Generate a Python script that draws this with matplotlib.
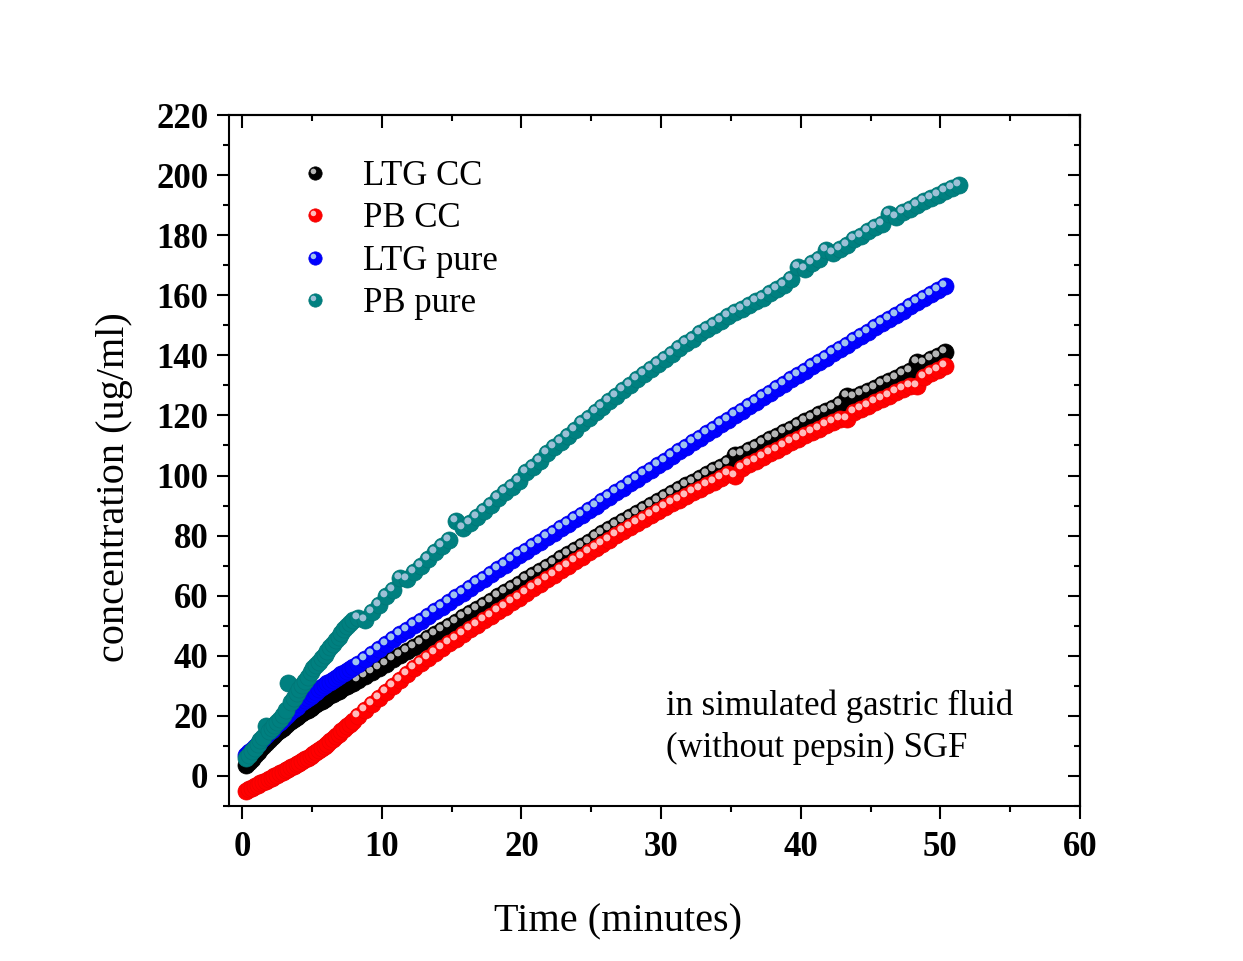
import numpy as np
import matplotlib
matplotlib.use("Agg")
import matplotlib.pyplot as plt
from matplotlib.path import Path
from matplotlib.lines import Line2D
from matplotlib.legend_handler import HandlerTuple
from matplotlib.ticker import MultipleLocator

# ---------------- data ----------------
TIME = [0.3, 0.5, 0.7, 0.9, 1.1, 1.3, 1.5, 1.7, 1.9, 2.1, 2.3, 2.5, 2.7, 2.9, 3.1, 3.3,
        3.5, 3.7, 3.9, 4.1, 4.3, 4.5, 4.7, 4.9, 5.1, 5.3, 5.5, 5.7, 5.9, 6.1, 6.3, 6.5,
        6.7, 6.9, 7.1, 7.3, 7.5, 7.7, 7.9,
        8.3, 8.8, 9.3, 9.8, 10.3, 10.8, 11.3, 11.8, 12.3, 12.8, 13.3, 13.8, 14.3, 14.8,
        15.3, 15.8, 16.3, 16.8, 17.3, 17.8, 18.3, 18.8, 19.3, 19.8, 20.3, 20.8, 21.3, 21.8,
        22.3, 22.8, 23.3, 23.8, 24.3, 24.8, 25.3, 25.8, 26.3, 26.8, 27.3, 27.8, 28.3, 28.8,
        29.3, 29.8, 30.3, 30.8, 31.3, 31.8, 32.3, 32.8, 33.3, 33.8, 34.3, 34.8, 35.3, 35.8,
        36.3, 36.8, 37.3, 37.8, 38.3, 38.8, 39.3, 39.8, 40.3, 40.8, 41.3, 41.8, 42.3, 42.8,
        43.3, 43.8, 44.3, 44.8, 45.3, 45.8, 46.3, 46.8, 47.3, 47.8, 48.3, 48.8, 49.3, 49.8,
        50.3]
TIME_PB_PURE = TIME + [50.8, 51.3]

LTG_CC = [3.5, 4.6, 5.7, 6.9, 8.0, 9.0, 10.0, 11.0, 12.0, 12.9, 13.7, 14.5, 15.3, 16.1, 16.9, 17.6,
          18.3, 19.0, 19.7, 20.3, 20.9, 21.5, 22.1, 22.7, 23.3, 23.9, 24.5, 25.1, 25.7, 26.2, 26.8, 27.3,
          27.9, 28.4, 29.0, 29.5, 30.0, 30.5, 31.0,
          32.0, 33.3, 34.6, 36.0, 37.4, 38.8, 40.2, 41.6, 43.0, 44.4, 45.8, 47.2, 48.6, 50.0,
          51.4, 52.8, 54.2, 55.6, 57.0, 58.4, 59.8, 61.2, 62.6, 64.0, 65.4, 66.8, 68.2, 69.6,
          71.0, 72.4, 73.8, 75.2, 76.6, 78.0, 79.4, 80.8, 82.2, 83.6, 85.0, 86.3, 87.6, 88.9,
          90.2, 91.5, 92.8, 94.1, 95.4, 96.7, 98.0, 99.3, 100.5, 101.7, 102.9, 104.1, 107.0, 107.2,
          108.4, 109.6, 110.8, 112.0, 113.2, 114.4, 115.6, 116.8, 118.0, 119.2, 120.4, 121.5, 122.6, 123.7,
          126.5, 126.0, 127.1, 128.2, 129.3, 130.4, 131.5, 132.6, 133.7, 134.8, 137.8, 137.5, 138.7, 139.8,
          141.0]

PB_CC = [-5.0, -4.5, -4.0, -3.5, -3.0, -2.5, -2.0, -1.6, -1.1, -0.6, -0.1, 0.4, 0.9, 1.4, 1.9, 2.4,
         2.9, 3.4, 3.9, 4.4, 4.9, 5.5, 6.1, 6.7, 7.3, 8.0, 8.7, 9.4, 10.1, 10.8, 11.6, 12.4,
         13.2, 14.0, 14.8, 15.6, 16.5, 17.4, 18.3,
         20.0, 22.0, 24.0, 26.0, 28.0, 30.0, 32.0, 33.9, 35.8, 37.6, 39.3, 40.9, 42.5, 44.1,
         45.7, 47.3, 48.9, 50.4, 51.9, 53.4, 54.9, 56.4, 57.9, 59.4, 60.9, 62.4, 63.9, 65.4,
         66.9, 68.4, 69.9, 71.4, 72.9, 74.4, 75.9, 77.3, 78.7, 80.1, 81.5, 82.9, 84.3, 85.6,
         86.9, 88.2, 89.5, 90.8, 92.0, 93.2, 94.4, 95.6, 96.8, 98.0, 99.2, 100.4, 99.8, 102.6,
         103.8, 105.0, 106.2, 107.4, 108.6, 109.8, 111.0, 112.2, 113.4, 114.5, 115.6, 116.7, 117.8, 118.9,
         118.8, 121.1, 122.2, 123.3, 124.4, 125.5, 126.6, 127.7, 128.8, 129.9, 129.8, 132.8, 134.0, 135.2,
         136.6]

LTG_PURE = [7.0, 7.9, 8.7, 9.6, 10.5, 11.5, 12.5, 13.5, 14.5, 15.4, 16.3, 17.2, 18.1, 19.0, 19.9, 20.7,
            21.5, 22.3, 23.1, 23.9, 24.6, 25.3, 26.0, 26.7, 27.4, 28.1, 28.8, 29.5, 30.2, 30.8, 31.4, 32.0,
            32.6, 33.2, 33.8, 34.4, 35.0, 35.6, 36.2,
            37.4, 39.0, 40.6, 42.3, 43.9, 45.5, 47.1, 48.6, 50.2, 51.7, 53.3, 54.8, 56.4, 57.9,
            59.5, 61.0, 62.6, 64.1, 65.7, 67.2, 68.8, 70.3, 71.9, 73.4, 74.9, 76.4, 78.0, 79.5,
            81.0, 82.5, 84.0, 85.5, 87.0, 88.5, 90.0, 91.5, 93.0, 94.5, 96.0, 97.5, 99.0, 100.5,
            102.0, 103.5, 105.0, 106.5, 108.0, 109.5, 111.0, 112.5, 114.0, 115.5, 117.0, 118.5, 120.0, 121.5,
            123.0, 124.5, 126.0, 127.5, 129.0, 130.5, 132.0, 133.4, 134.9, 136.3, 137.8, 139.2, 140.7, 142.1,
            143.6, 145.0, 146.5, 147.9, 149.3, 150.7, 152.1, 153.5, 154.9, 156.3, 157.7, 159.1, 160.4, 161.7,
            163.0]

PB_PURE = [6.0, 7.0, 8.2, 9.4, 10.6, 11.8, 13.0, 16.5, 14.8, 15.8, 16.8, 17.8, 18.8, 20.3, 21.8, 31.0,
           24.5, 26.0, 27.5, 29.0, 30.3, 31.6, 33.0, 34.5, 35.8, 36.9, 38.0, 39.2, 40.4, 41.6, 42.8, 44.0,
           45.2, 46.4, 47.6, 48.8, 50.0, 51.0, 52.0,
           52.5, 51.8, 54.5, 57.0, 59.8, 62.0, 66.0, 65.4, 67.8, 70.0, 72.3, 74.5, 76.5, 78.5,
           85.0, 82.5, 84.3, 86.1, 88.2, 90.3, 92.5, 94.5, 96.3, 98.3, 101.2, 103.0, 105.0, 107.5,
           109.4, 111.2, 113.2, 115.0, 117.5, 119.3, 121.0, 122.9, 124.8, 126.6, 128.4, 130.2, 132.0, 133.8,
           135.5, 137.2, 138.9, 140.6, 142.3, 144.0, 145.6, 147.4, 148.8, 150.2, 151.6, 153.0, 154.4, 155.6,
           156.8, 158.0, 159.2, 160.6, 162.0, 163.5, 165.5, 169.5, 168.8, 170.6, 172.2, 175.0, 174.0, 175.3,
           176.6, 178.8, 179.8, 181.4, 182.6, 183.8, 187.0, 186.2, 187.6, 188.8, 190.2, 191.3, 192.4, 193.5,
           194.6, 195.6, 196.6]

SERIES_NAMES = ["LTG CC", "PB CC", "LTG pure", "PB pure"]
X_TICKS = [0, 10, 20, 30, 40, 50, 60]
Y_TICKS = [0, 20, 40, 60, 80, 100, 120, 140, 160, 180, 200, 220]

# ---------------- style ----------------
plt.rcParams['font.family'] = ['Liberation Serif', 'DejaVu Serif']

series = [
    (TIME, LTG_CC, "#000000", "#000000", "#b5b5b5"),
    (TIME, PB_CC, "#ff0000", "#ee0000", "#ffbcbc"),
    (TIME, LTG_PURE, "#0000ff", "#0000e8", "#9fc2ee"),
    (TIME_PB_PURE, PB_PURE, "#008080", "#007676", "#9cc0d6"),
]


def highlight_marker(a, r):
    """circle of radius r centred at (-a, a) in point units, for markersize 2*(a+r)"""
    return Path.circle(center=(-a, a), radius=r), 2 * (a + r)


HL_PATH, HL_MS = highlight_marker(1.9, 2.5)
LEG_HL_PATH, LEG_HL_MS = highlight_marker(1.5, 2.0)
BASE_MS = 12.3
LEG_MS = 9.6

fig = plt.figure(figsize=(12.43, 9.61), dpi=100)
fig.patch.set_facecolor("white")
ax = fig.add_axes([0.1842, 0.1613, 0.6847, 0.7190])

handles = []
for (t, y, c, ec, hc), name in zip(series, SERIES_NAMES):
    t = np.asarray(t)
    y = np.asarray(y)
    ax.plot(t, y, linestyle="none", marker="o", ms=BASE_MS, mfc=c, mec=ec, mew=0.5, zorder=3)
    sparse = t > 8.0
    ax.plot(t[sparse], y[sparse], linestyle="none", marker=HL_PATH, ms=HL_MS,
            mfc=hc, mec="none", zorder=3)
    h1 = Line2D([], [], linestyle="none", marker="o", ms=LEG_MS, mfc=c, mec=ec, mew=0.5)
    h2 = Line2D([], [], linestyle="none", marker=LEG_HL_PATH, ms=LEG_HL_MS, mfc=hc, mec="none")
    handles.append((h1, h2))

ax.set_xlim(-0.95, 60)
ax.set_ylim(-10, 220)

ax.set_xticks(X_TICKS, labels=[str(v) for v in X_TICKS], fontsize=25, fontweight="bold")
ax.set_yticks(Y_TICKS, labels=[str(v) for v in Y_TICKS], fontsize=25, fontweight="bold")
ax.xaxis.set_minor_locator(MultipleLocator(5))
ax.yaxis.set_minor_locator(MultipleLocator(10))
ax.tick_params(which="both", direction="out", width=1.5, top=False, right=False)
ax.tick_params(which="major", length=9)
ax.tick_params(which="minor", length=4.5)
ax.tick_params(axis="y", pad=6)
ax.tick_params(axis="x", pad=9)
for s in ax.spines.values():
    s.set_linewidth(1.5)

secx = ax.secondary_xaxis("top")
secx.xaxis.set_major_locator(MultipleLocator(10))
secx.xaxis.set_minor_locator(MultipleLocator(5))
secx.tick_params(which="both", direction="in", width=1.5, labeltop=False)
secx.tick_params(which="major", length=9)
secx.tick_params(which="minor", length=4.5)
secx.spines["top"].set_linewidth(1.5)

secy = ax.secondary_yaxis("right")
secy.yaxis.set_major_locator(MultipleLocator(20))
secy.yaxis.set_minor_locator(MultipleLocator(10))
secy.tick_params(which="both", direction="in", width=1.5, labelright=False)
secy.tick_params(which="major", length=9)
secy.tick_params(which="minor", length=4.5)
secy.spines["right"].set_linewidth(1.5)

ax.set_xlabel("Time (minutes)", fontsize=29)
ax.set_ylabel("concentration (ug/ml)", fontsize=29)
ax.xaxis.set_label_coords(0.457, -0.141)
ax.yaxis.set_label_coords(-0.113, 0.4617)

leg = ax.legend(handles, SERIES_NAMES, handler_map={tuple: HandlerTuple(ndivide=1, pad=0)},
                loc="upper left", bbox_to_anchor=(0.0805, 0.935), frameon=False,
                fontsize=25, handlelength=1.0, handletextpad=0.9, labelspacing=0.27,
                borderaxespad=0, borderpad=0)

ax.text(0.5135, 0.1447, "in simulated gastric fluid", transform=ax.transAxes,
        fontsize=25, ha="left", va="center")
ax.text(0.5135, 0.0839, "(without pepsin) SGF", transform=ax.transAxes,
        fontsize=25, ha="left", va="center")

fig.savefig("out.png", dpi=100, facecolor="white")
